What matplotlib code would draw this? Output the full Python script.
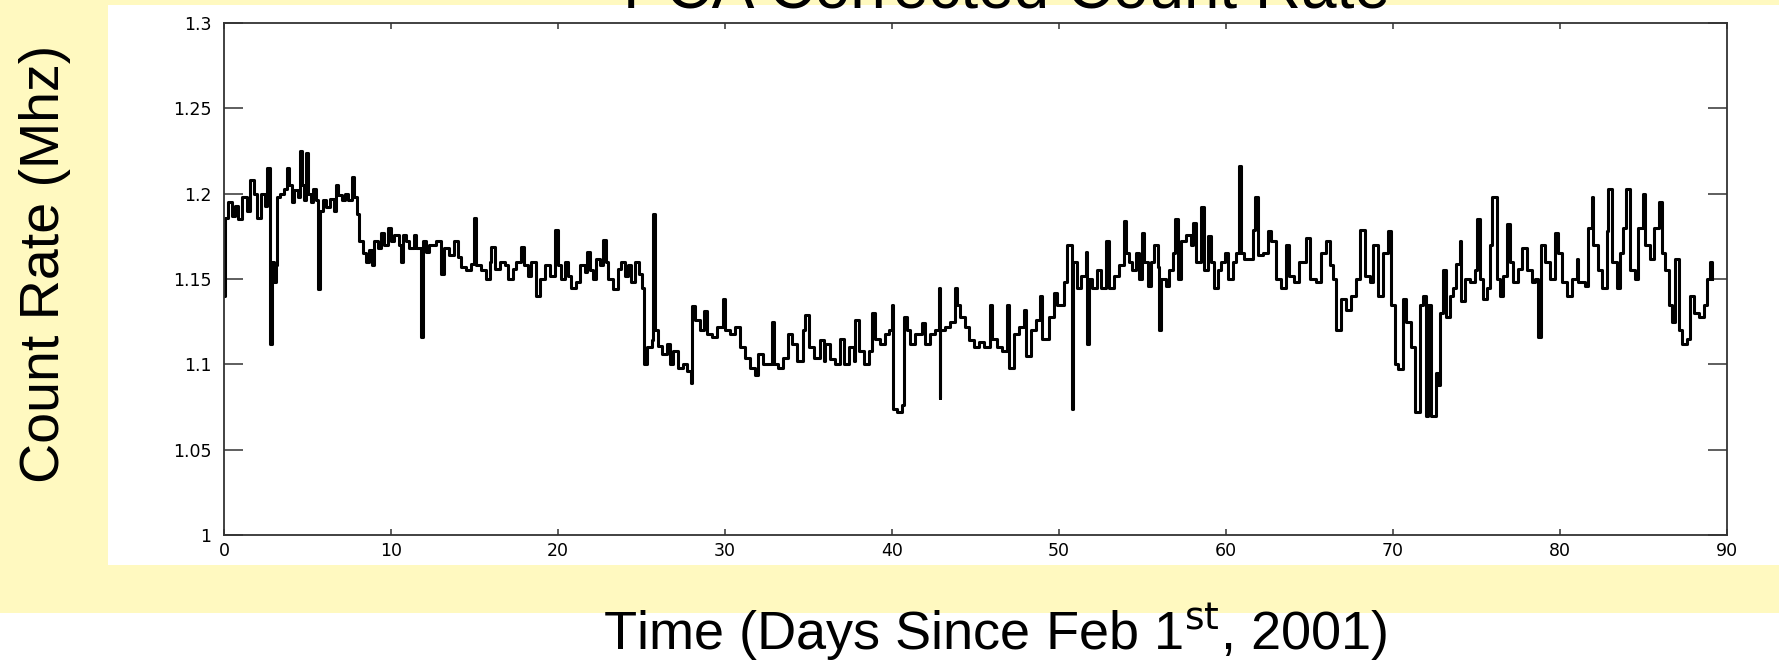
import numpy as np
import matplotlib
matplotlib.use("Agg")
import matplotlib.pyplot as plt
from matplotlib.patches import Rectangle

# data (days, MHz)
##################################################################################################################################################
t_days = [
    0.00, 0.05, 0.25, 0.45, 0.65, 0.85, 1.10, 1.35, 1.55, 1.80, 2.00, 2.20, 2.45, 2.60, 2.75, 2.85, 3.00, 3.10,
    3.20, 3.35, 3.60, 3.75, 3.90, 4.05, 4.20, 4.45, 4.55, 4.65, 4.80, 4.90, 5.05, 5.20, 5.35, 5.50, 5.65, 5.75,
    5.90, 6.10, 6.35, 6.60, 6.70, 6.85, 7.05, 7.25, 7.45, 7.65, 7.80, 7.95, 8.10, 8.30, 8.50, 8.70, 8.85, 9.00,
    9.20, 9.40, 9.60, 9.80, 10.00, 10.20, 10.45, 10.60, 10.70, 10.90, 11.10, 11.35, 11.50, 11.80, 11.90, 12.10,
    12.30, 12.70, 13.00, 13.20, 13.50, 13.80, 14.00, 14.20, 14.50, 14.80, 14.95, 15.10, 15.40, 15.70, 15.90,
    16.00, 16.20, 16.50, 16.80, 17.00, 17.30, 17.50, 17.80, 17.95, 18.20,
    18.40, 18.70, 18.90, 19.20, 19.50, 19.85, 20.00, 20.20, 20.40, 20.60, 20.80, 21.10, 21.30, 21.60, 21.75,
    21.90, 22.10, 22.30, 22.50, 22.70, 22.85, 23.00, 23.30, 23.60, 23.80, 24.00, 24.20, 24.40, 24.60, 24.85,
    25.00, 25.15, 25.35, 25.60, 25.70, 25.80, 26.00, 26.20, 26.50, 26.70, 26.90, 27.20, 27.50, 27.70, 27.95,
    28.00, 28.20, 28.50, 28.75, 28.90, 29.20, 29.50, 29.90, 30.00, 30.30, 30.60, 30.90, 31.20, 31.50, 31.80,
    32.00, 32.30, 32.80, 32.95, 33.20, 33.50, 33.80, 34.00, 34.30, 34.70, 34.80, 35.00, 35.30, 35.70, 35.90,
    36.00, 36.30, 36.60, 36.90, 37.10, 37.40, 37.70, 37.80, 38.00, 38.30, 38.60, 38.80, 39.00, 39.30, 39.60,
    39.80, 40.00, 40.05, 40.30, 40.60, 40.70, 40.90, 41.10, 41.40, 41.80, 42.00, 42.30, 42.60, 42.80, 42.85,
    42.90, 43.20, 43.50, 43.75, 43.90, 44.10, 44.40, 44.60, 44.90, 45.20, 45.50, 45.85, 46.00, 46.30, 46.60,
    46.90, 47.00, 47.30, 47.60, 47.90, 48.00, 48.30, 48.60, 48.85, 49.00, 49.40, 49.70, 49.90, 50.30, 50.50,
    50.75, 50.80, 50.85, 51.10, 51.30, 51.60, 51.70, 51.80, 52.00, 52.30, 52.50, 52.80, 53.00, 53.30, 53.60,
    53.90, 54.00, 54.20,
    54.40, 54.60, 54.80, 54.95, 55.10, 55.30, 55.50, 55.70, 55.90, 56.00, 56.10, 56.40, 56.60, 56.80, 56.95,
    57.10, 57.30, 57.60, 57.90, 58.00, 58.20, 58.50, 58.70, 58.95, 59.10, 59.30, 59.50, 59.70, 59.95, 60.10,
    60.40, 60.60, 60.80, 60.90, 61.10, 61.40, 61.60, 61.75, 61.90, 62.20, 62.50, 62.70, 63.00, 63.30, 63.60,
    63.80, 64.10, 64.40, 64.80, 65.00, 65.40, 65.70, 66.00, 66.20, 66.40, 66.60, 66.90, 67.20, 67.50, 67.80,
    68.00, 68.30, 68.60, 68.80, 69.10, 69.40, 69.70, 69.90, 70.10, 70.30, 70.60, 70.80, 71.10, 71.30, 71.60,
    71.80, 72.00,
    72.10, 72.30, 72.60, 72.70, 72.80, 73.00, 73.20, 73.40, 73.60, 73.80, 74.00, 74.10, 74.30, 74.60, 74.90,
    75.00, 75.20, 75.40, 75.60, 75.80, 75.95, 76.20, 76.40, 76.60, 76.80, 77.00, 77.20, 77.50, 77.70, 78.00,
    78.30, 78.50, 78.70, 78.85, 79.10, 79.40, 79.70, 79.90, 80.10, 80.40, 80.70, 81.00, 81.10, 81.50, 81.70,
    81.90, 82.00, 82.30, 82.50, 82.80, 82.90, 83.10, 83.40, 83.60, 83.80, 83.95, 84.20, 84.50, 84.70, 84.95,
    85.10, 85.40, 85.60, 85.90, 86.10, 86.30, 86.50, 86.70, 86.90, 87.10, 87.30, 87.60, 87.80, 88.00, 88.30,
    88.60, 88.80, 89.00, 89.10,
]
count_rate = [
    1.140, 1.186, 1.195, 1.187, 1.193, 1.185, 1.198, 1.190, 1.208, 1.200, 1.186, 1.200, 1.193, 1.215, 1.112, 1.160, 1.148, 1.158,
    1.198, 1.200, 1.203, 1.215, 1.205, 1.195, 1.202, 1.198, 1.225, 1.205, 1.196, 1.224, 1.200, 1.195, 1.203, 1.196, 1.144, 1.190,
    1.196, 1.192, 1.197, 1.190, 1.205, 1.199, 1.196, 1.200, 1.196, 1.210, 1.198, 1.188, 1.172, 1.165, 1.160, 1.167, 1.158, 1.172,
    1.168, 1.177, 1.170, 1.180, 1.172, 1.176, 1.170, 1.160, 1.176, 1.172, 1.168, 1.176, 1.168, 1.116, 1.172, 1.166,
    1.170, 1.172, 1.153, 1.168, 1.164, 1.172, 1.163, 1.157, 1.155, 1.159, 1.186, 1.158, 1.155, 1.150, 1.160,
    1.169, 1.156, 1.160, 1.158, 1.150, 1.156, 1.160, 1.169, 1.158, 1.152,
    1.160, 1.140, 1.150, 1.158, 1.152, 1.179, 1.158, 1.150, 1.160, 1.152, 1.145, 1.148, 1.158, 1.154, 1.166,
    1.155, 1.150, 1.162, 1.158, 1.173, 1.160, 1.150, 1.144, 1.156, 1.160, 1.152, 1.158, 1.148, 1.160, 1.153,
    1.145, 1.100, 1.110, 1.114, 1.188, 1.120, 1.111, 1.106, 1.112, 1.100, 1.108, 1.098, 1.100, 1.096, 1.089,
    1.134, 1.126, 1.120, 1.131, 1.118, 1.116, 1.122, 1.138, 1.120, 1.118, 1.122, 1.110, 1.104, 1.098, 1.094,
    1.106, 1.100, 1.125, 1.100, 1.098, 1.104, 1.118, 1.112, 1.102, 1.120, 1.129, 1.110, 1.104, 1.114, 1.102,
    1.112, 1.103, 1.100, 1.115, 1.100, 1.110, 1.102, 1.126, 1.108, 1.100, 1.108, 1.130, 1.115, 1.112, 1.118,
    1.120, 1.135, 1.074, 1.072, 1.076, 1.128, 1.120, 1.112, 1.118, 1.124, 1.112, 1.118, 1.120, 1.145, 1.080,
    1.120, 1.122, 1.125, 1.145, 1.135, 1.128, 1.122, 1.114, 1.110, 1.113, 1.110, 1.135, 1.115, 1.110, 1.108,
    1.135, 1.098, 1.118, 1.122, 1.132, 1.105, 1.120, 1.126, 1.140, 1.115, 1.128, 1.142, 1.135, 1.148, 1.170,
    1.150, 1.074, 1.160, 1.145, 1.152, 1.166, 1.112, 1.150, 1.145, 1.155, 1.145, 1.172, 1.145, 1.152, 1.158,
    1.184, 1.165, 1.160,
    1.155, 1.165, 1.150, 1.177, 1.160, 1.146, 1.160, 1.170, 1.157, 1.120, 1.150, 1.146, 1.155, 1.165, 1.185,
    1.150, 1.172, 1.176, 1.170, 1.183, 1.160, 1.192, 1.155, 1.175, 1.160, 1.145, 1.155, 1.160, 1.165, 1.150,
    1.160, 1.165, 1.2165, 1.165, 1.162, 1.162, 1.179, 1.198, 1.164, 1.165, 1.178, 1.172, 1.150, 1.145, 1.170,
    1.152, 1.148, 1.160, 1.174, 1.150, 1.148, 1.165, 1.172, 1.158, 1.150, 1.120, 1.138, 1.132, 1.140, 1.150,
    1.179, 1.152, 1.148, 1.170, 1.140, 1.165, 1.178, 1.135, 1.100, 1.097, 1.138, 1.125, 1.110, 1.072, 1.135,
    1.140, 1.070,
    1.135, 1.070, 1.095, 1.088, 1.130, 1.155, 1.128, 1.140, 1.145, 1.159, 1.172, 1.137, 1.150, 1.148, 1.155,
    1.185, 1.150, 1.138, 1.145, 1.170, 1.198, 1.150, 1.140, 1.152, 1.182, 1.160, 1.148, 1.156, 1.168, 1.155,
    1.148, 1.150, 1.116, 1.170, 1.160, 1.150, 1.177, 1.165, 1.148, 1.140, 1.150, 1.162, 1.148, 1.146, 1.180,
    1.198, 1.170, 1.155, 1.145, 1.178, 1.203, 1.160, 1.145, 1.165, 1.180, 1.203, 1.155, 1.150, 1.180, 1.200,
    1.170, 1.162, 1.180, 1.195, 1.165, 1.155, 1.135, 1.125, 1.162, 1.120, 1.112, 1.115, 1.140, 1.130, 1.128,
    1.135, 1.150, 1.160, 1.150,
]
x_ticks = [0, 10, 20, 30, 40, 50, 60, 70, 80, 90]
y_ticks = [1.0, 1.05, 1.1, 1.15, 1.2, 1.25, 1.3]
y_tick_labels = ["1", "1.05", "1.1", "1.15", "1.2", "1.25", "1.3"]

W, H = 1779, 661
fig = plt.figure(figsize=(W / 100, H / 100), dpi=100, facecolor="white")

# yellow slide band + white panel behind the plot
fig.patches.append(Rectangle((0, 1 - 613 / H), 1, 613 / H, transform=fig.transFigure,
                             facecolor="#fff9c0", edgecolor="none", zorder=-2))
fig.patches.append(Rectangle((108 / W, 1 - 565 / H), 1 - 108 / W, 560 / H, transform=fig.transFigure,
                             facecolor="white", edgecolor="none", zorder=-1))

ax = fig.add_axes([224 / W, 1 - 535 / H, 1503 / W, 512 / H])
ax.step(t_days, count_rate, where="post", color="black", lw=2.2)

ax.set_xlim(0, 90)
ax.set_ylim(1.0, 1.3)
ax.set_xticks(x_ticks)
ax.set_yticks(y_ticks)
ax.set_yticklabels(y_tick_labels)
for s in ax.spines.values():
    s.set_linewidth(1.3)
    s.set_color("#333333")
ax.tick_params(direction="in", top=True, right=True, colors="#333333", width=1.1,
               labelcolor="black", labelsize=12.5)
ax.tick_params(axis="y", length=13.5, pad=9)
ax.tick_params(axis="x", length=4.5, pad=5)
for lab in ax.get_xticklabels() + ax.get_yticklabels():
    lab.set_family("DejaVu Sans")

fig.text(1007 / W, 1 - 7 / H, "PCA Corrected Count Rate", ha="center", va="baseline",
         fontsize=46, family="Liberation Sans")
fig.text(45 / W, 1 - 264 / H, "Count Rate (Mhz)", rotation=90, ha="center", va="center",
         fontsize=40, family="Liberation Sans")
fig.text(995 / W, 1 - 650 / H, r"Time (Days Since Feb 1$^{\mathrm{st}}$, 2001)", ha="center", va="baseline",
         fontsize=39, family="Liberation Sans", math_fontfamily="dejavusans")

fig.savefig("out.png", dpi=100, facecolor=fig.get_facecolor())
